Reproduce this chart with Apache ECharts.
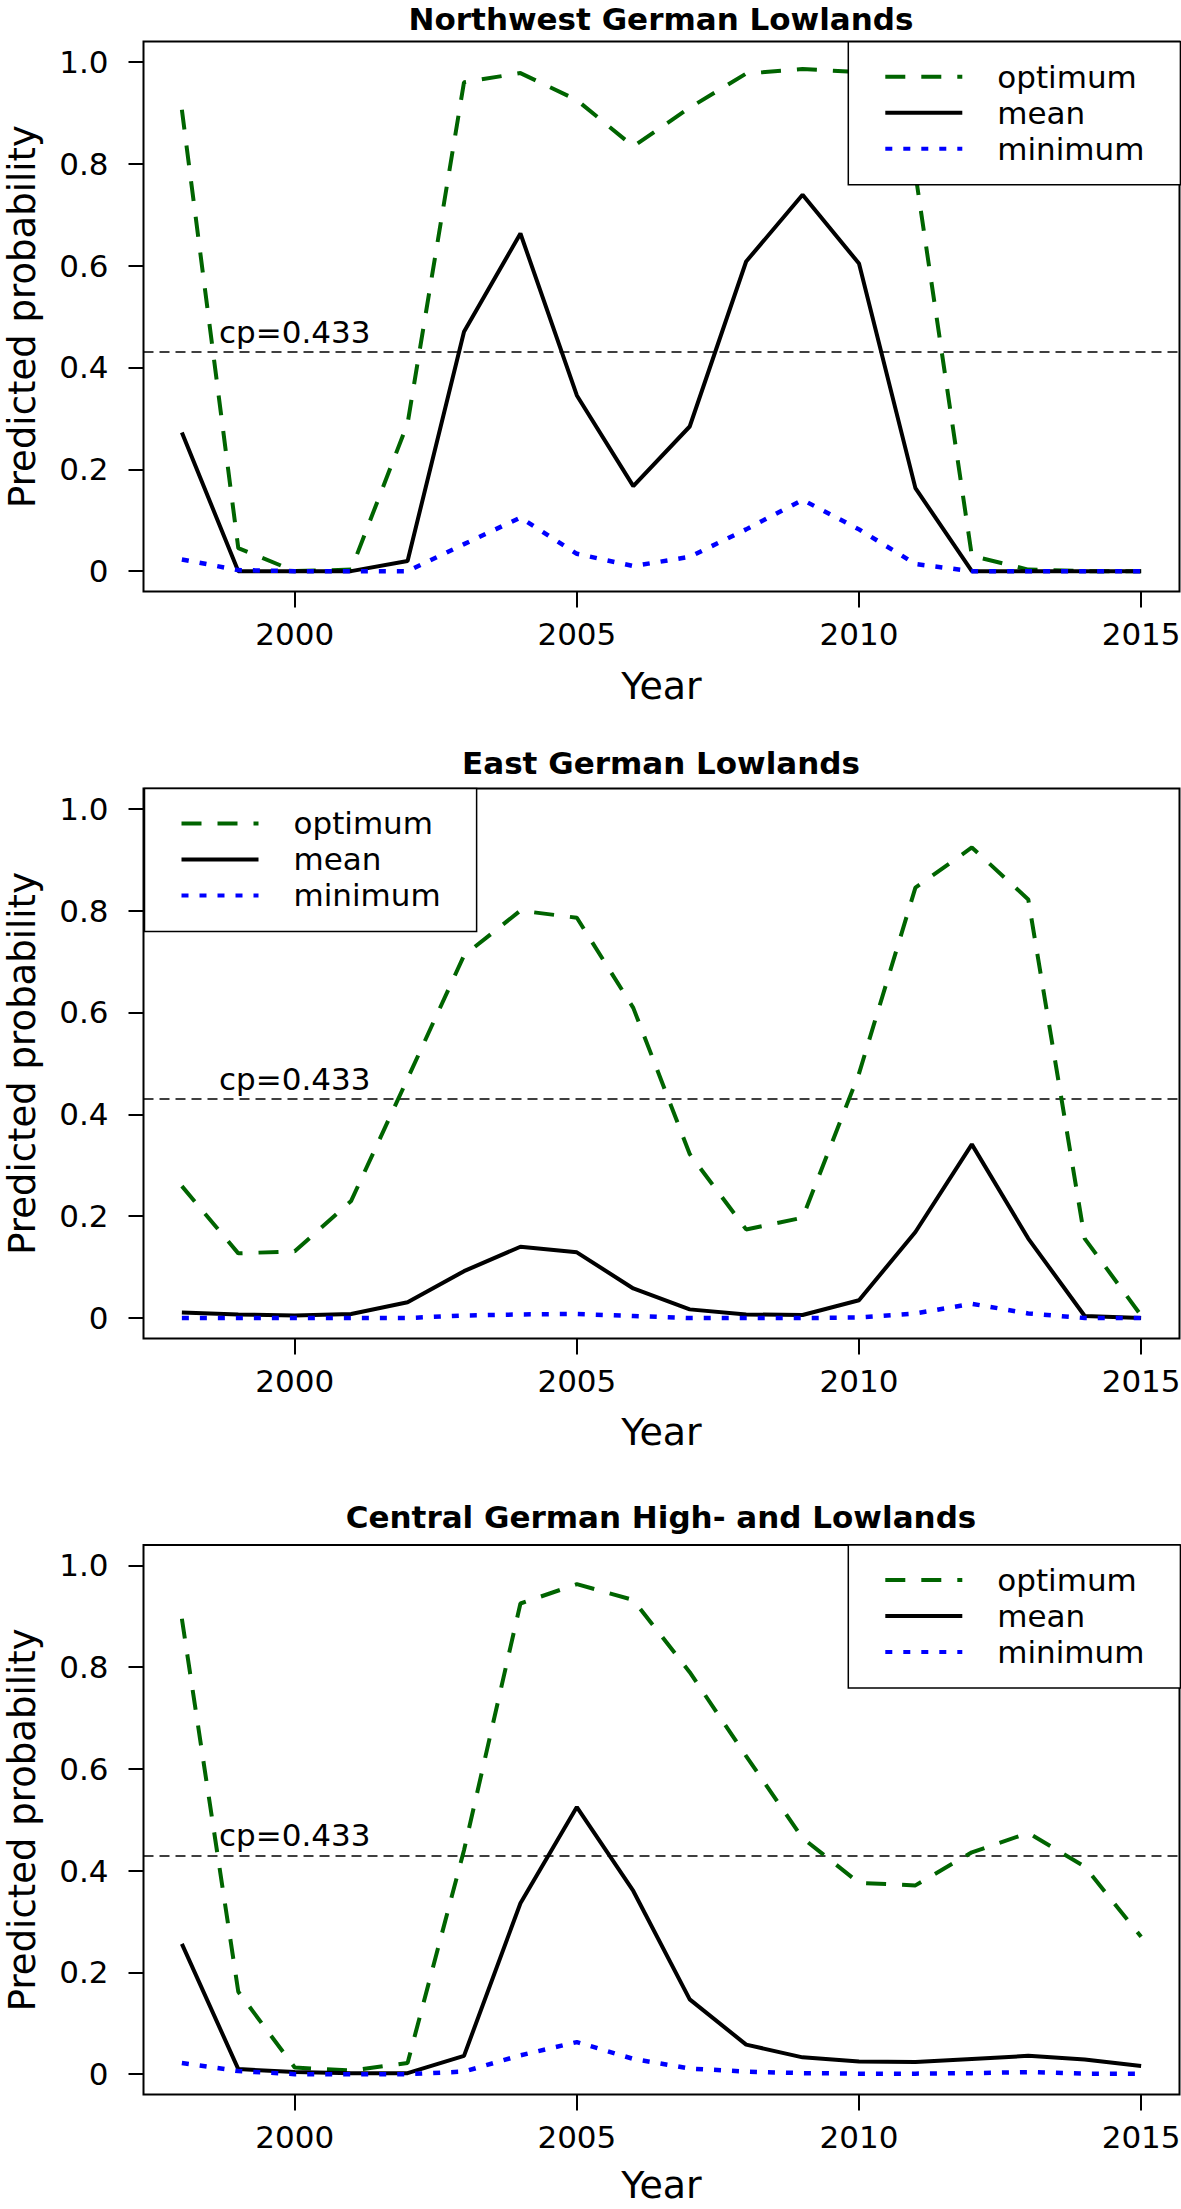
<!DOCTYPE html>
<html><head><meta charset="utf-8">
<script src="https://cdn.jsdelivr.net/npm/echarts@6/dist/echarts.min.js"></script>
<style>html,body{margin:0;padding:0;background:#fff}#c{width:1181px;height:2209px}</style>
</head><body><div id="c"></div>
<script>
// ---------------- data ----------------
const years = [1998,1999,2000,2001,2002,2003,2004,2005,2006,2007,2008,2009,2010,2011,2012,2013,2014,2015];
const seriesNames = ['optimum','mean','minimum'];
const panelTitles = ['Northwest German Lowlands','East German Lowlands','Central German High- and Lowlands'];

const nwOptimum = [0.906,0.045,0.0,0.003,0.29,0.96,0.978,0.925,0.834,0.91,0.977,0.986,0.98,0.78,0.03,0.003,0.0,0.0];
const nwMean    = [0.272,0.0,0.0,0.0,0.02,0.47,0.663,0.345,0.167,0.284,0.608,0.739,0.604,0.163,0.0,0.0,0.0,0.0];
const nwMinimum = [0.023,0.002,0.0,0.0,0.0,0.053,0.105,0.034,0.01,0.028,0.082,0.14,0.082,0.014,0.0,0.0,0.0,0.0];

const eastOptimum = [0.259,0.127,0.131,0.23,0.47,0.712,0.80,0.786,0.609,0.322,0.174,0.197,0.48,0.845,0.924,0.822,0.156,0.005];
const eastMean    = [0.011,0.007,0.005,0.008,0.031,0.092,0.14,0.129,0.058,0.017,0.007,0.006,0.035,0.169,0.341,0.156,0.004,0.0];
const eastMinimum = [0.0,0.0,0.0,0.0,0.0,0.005,0.007,0.008,0.004,0.0,0.0,0.0,0.001,0.009,0.028,0.009,0.0,0.0];

const centralOptimum = [0.895,0.162,0.013,0.007,0.022,0.44,0.925,0.963,0.932,0.79,0.625,0.464,0.376,0.371,0.436,0.474,0.408,0.27];
const centralMean    = [0.256,0.01,0.004,0.002,0.002,0.036,0.336,0.525,0.36,0.147,0.058,0.033,0.025,0.024,0.03,0.036,0.029,0.016];
const centralMinimum = [0.022,0.006,0.0,0.0,0.0,0.005,0.037,0.063,0.03,0.011,0.005,0.002,0.001,0.001,0.002,0.004,0.001,0.001];

const cutPoint = 0.433;
const xTickValues = [2000,2005,2010,2015];
const yTickValues = [0,0.2,0.4,0.6,0.8,1.0];

// ---------------- layout / style ----------------
const FONT = 'DejaVu Sans';
const GRID_LEFT = 143.5, GRID_W = 1036;
const panels = [
  {values:[nwOptimum,nwMean,nwMinimum], top:41.5, height:550, titleY:19, legendLeft:848.3, legendTop:41.7, yearGap:78},
  {values:[eastOptimum,eastMean,eastMinimum], top:788.4, height:550, titleY:762.5, legendLeft:144.5, legendTop:788.4, yearGap:78},
  {values:[centralOptimum,centralMean,centralMinimum], top:1545, height:549.5, titleY:1517, legendLeft:848.3, legendTop:1545, yearGap:74}
];
const lineStyles = [
  {color:'#006400', width:4, type:[20,16]},
  {color:'#000000', width:4, type:'solid'},
  {color:'#0000ff', width:4.5, type:[7,11]}
];

const grids=[], xAxes=[], yAxes=[], series=[], legends=[], graphics=[];
panels.forEach((p,i)=>{
  grids.push({left:GRID_LEFT, top:p.top, width:GRID_W, height:p.height, show:true,
    borderColor:'#000', borderWidth:2, backgroundColor:'rgba(0,0,0,0)', containLabel:false, outerBoundsMode:'none'});
  xAxes.push({gridIndex:i, type:'value', min:1997.32, max:2015.68,
    axisLine:{show:false, onZero:false}, splitLine:{show:false},
    axisTick:{show:true, length:16, lineStyle:{color:'#000', width:2}, customValues:xTickValues},
    axisLabel:{customValues:xTickValues, fontSize:31, fontFamily:FONT, color:'#000', margin:27,
      formatter:v=>String(v)},
    name:'Year', nameLocation:'middle', nameGap:p.yearGap,
    nameTextStyle:{fontSize:38, fontFamily:FONT, color:'#000', lineHeight:32}});
  yAxes.push({gridIndex:i, type:'value', min:-0.04, max:1.04,
    axisLine:{show:false, onZero:false}, splitLine:{show:false},
    axisTick:{show:true, length:15, lineStyle:{color:'#000', width:2}, customValues:yTickValues},
    axisLabel:{customValues:yTickValues, fontSize:31, fontFamily:FONT, color:'#000', margin:35,
      formatter:v=> (Math.abs(v)<1e-9 ? '0' : v.toFixed(1))},
    name:'Predicted probability', nameLocation:'middle', nameRotate:90, nameGap:103,
    nameTextStyle:{fontSize:37, fontFamily:FONT, color:'#000'}});
  p.values.forEach((vals,k)=>{
    const s = {name:seriesNames[k], type:'line', xAxisIndex:i, yAxisIndex:i,
      data: years.map((y,j)=>[y, vals[j]]), symbol:'none', showSymbol:false,
      lineStyle:lineStyles[k], itemStyle:{color:'rgba(0,0,0,0)', borderWidth:0}, z:2+k, silent:true};
    if(k===1){
      s.markLine = {silent:true, symbol:['none','none'], data:[{yAxis:cutPoint}],
        lineStyle:{color:'#000', width:1.5, type:[10,6]}, label:{show:false}, z:1};
      s.markPoint = {silent:true, symbol:'circle', symbolSize:1, itemStyle:{color:'rgba(0,0,0,0)'},
        data:[{coord:[2000, cutPoint]}],
        label:{show:true, position:'top', distance:3, formatter:'cp=' + cutPoint,
          fontSize:31, fontFamily:FONT, color:'#000'}};
    }
    series.push(s);
  });
  legends.push({orient:'vertical', left:p.legendLeft, top:p.legendTop, itemWidth:77, itemHeight:14, itemGap:0,
    padding:[17,36,18,35], backgroundColor:'#fff', borderColor:'#000', borderWidth:1.5, borderRadius:0,
    selectedMode:false, data:seriesNames, z:10,
    itemStyle:{color:'rgba(0,0,0,0)', borderWidth:0, opacity:0},
    lineStyle:{width:4},
    textStyle:{fontSize:31, fontFamily:FONT, color:'#000', lineHeight:36, padding:[0,0,0,30]}});
  graphics.push({type:'text', x:661, y:p.titleY, z:10,
    style:{text:panelTitles[i], fontSize:31, fontWeight:'bold', fontFamily:FONT, fill:'#000',
      align:'center', verticalAlign:'middle', textAlign:'center', textVerticalAlign:'middle'}});
});

const chart = echarts.init(document.getElementById('c'), null, {renderer:'svg'});
chart.setOption({
  animation:false, backgroundColor:'#fff',
  grid:grids, xAxis:xAxes, yAxis:yAxes, series:series, legend:legends, graphic:{elements:graphics}
});
</script></body></html>
